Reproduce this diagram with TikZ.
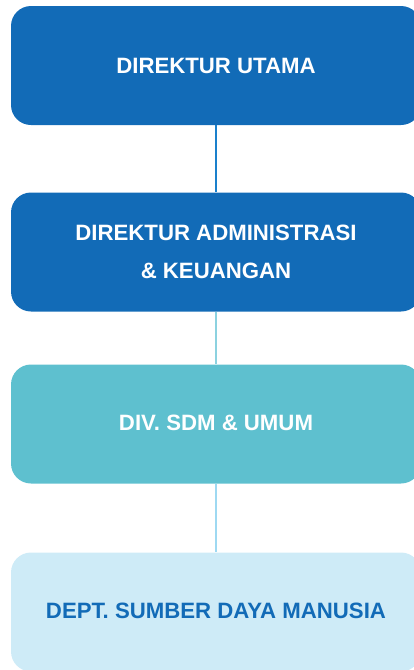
\documentclass[tikz,border=0pt]{standalone}
\usepackage{fontspec}
\newfontfamily\boxfont{Liberation Sans}
\usetikzlibrary{positioning}
\definecolor{navy}{HTML}{126BB7}
\definecolor{teal}{HTML}{5EC0CF}
\definecolor{pale}{HTML}{CEEBF7}
\definecolor{linkA}{HTML}{1A80CC}
\definecolor{linkB}{HTML}{8CD2E0}
\definecolor{linkC}{HTML}{9ED9F2}
\tikzset{unit/.style={rounded corners=20pt,align=center,minimum width=410pt,minimum height=119pt,inner sep=0pt,font=\boxfont\bfseries\fontsize{22.2}{38}\selectfont},
  dark/.style={unit,fill=navy,text=white},
  mid/.style={unit,fill=teal,text=white},
  light/.style={unit,fill=pale,text=navy},
  link/.style={line width=2pt}}
\begin{document}
\begin{tikzpicture}[x=1pt,y=-1pt]
\useasboundingbox (0,0) rectangle (414,670);
\node[dark] (du) at (216,65.5){\raisebox{-2.5pt}{DIREKTUR UTAMA}};
\node[dark] (dak) at (216,252){DIREKTUR ADMINISTRASI\\\& KEUANGAN};
\node[mid] (sdm) at (216,424){\raisebox{3.5pt}{DIV. SDM \& UMUM}};
\node[light] (dept) at (216,612){\raisebox{3.5pt}{DEPT. SUMBER DAYA MANUSIA}};
\draw[link,linkA] (du)--(dak);
\draw[link,linkB] (dak)--(sdm);
\draw[link,linkC] (sdm)--(dept);
\end{tikzpicture}
\end{document}
